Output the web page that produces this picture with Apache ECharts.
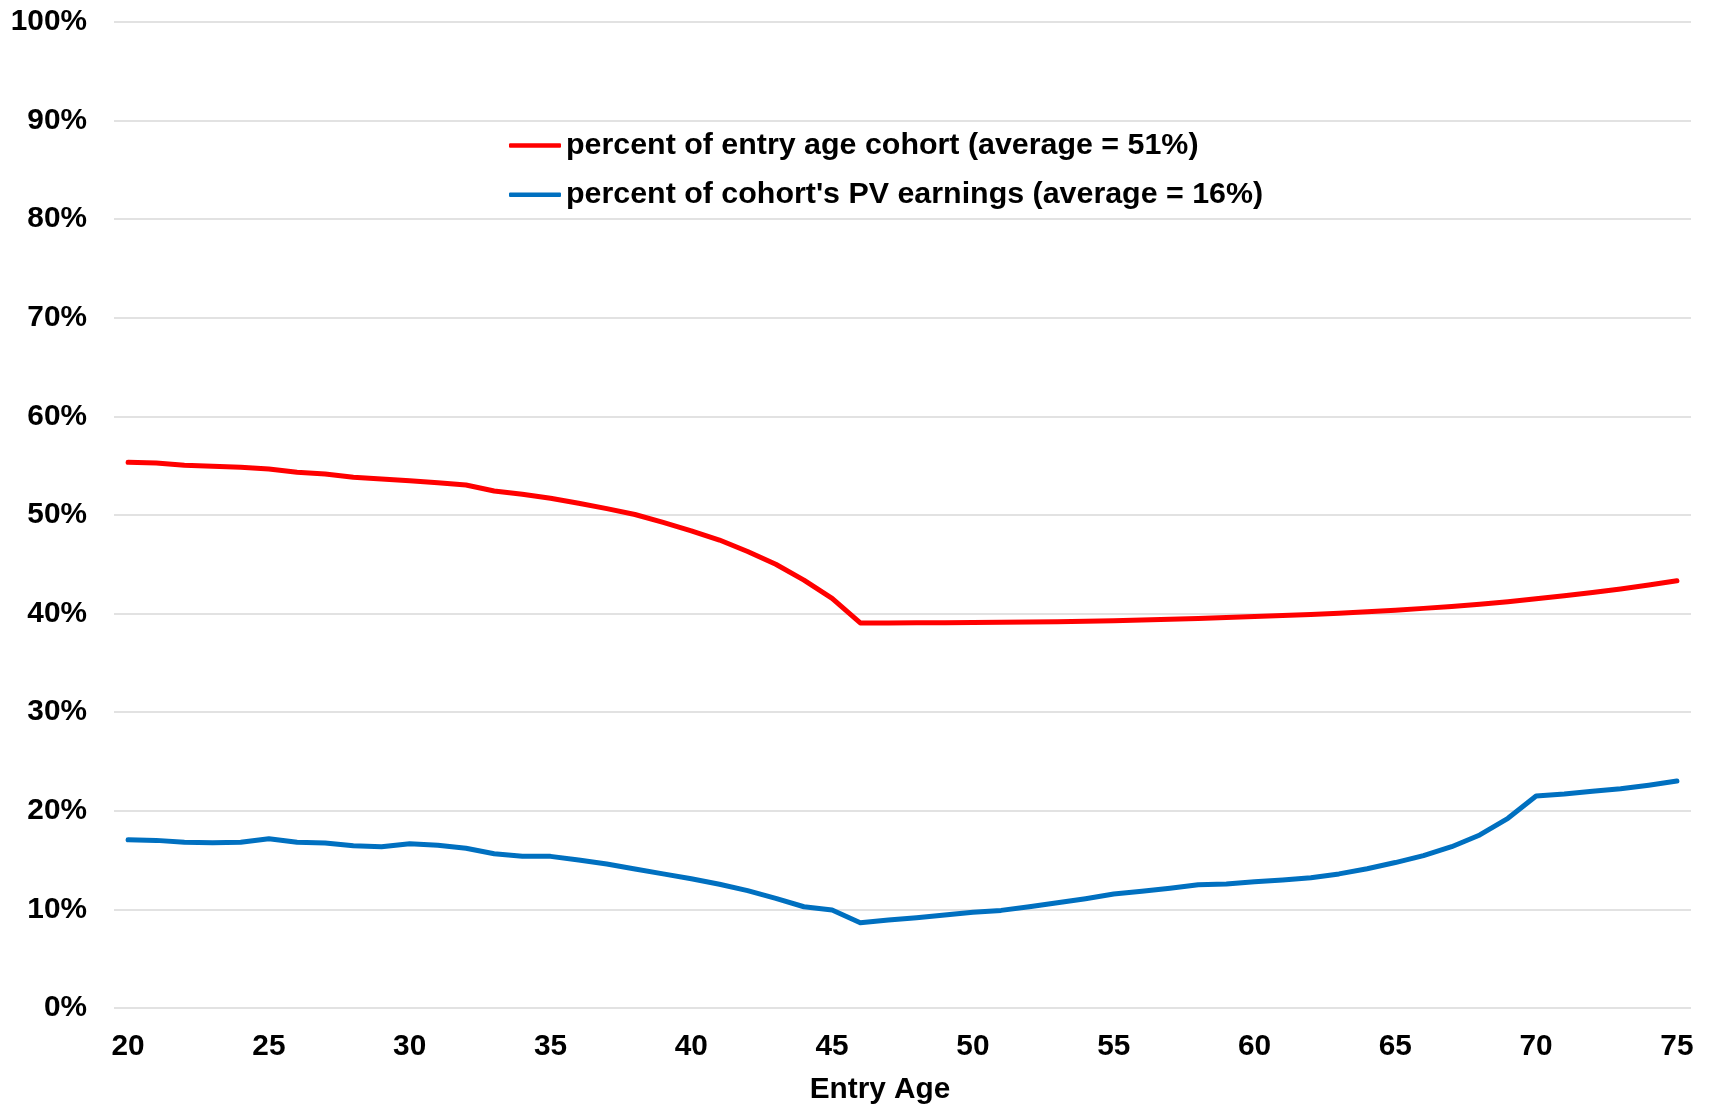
<!DOCTYPE html>
<html>
<head>
<meta charset="utf-8">
<script src="https://cdn.jsdelivr.net/npm/echarts@6/dist/echarts.min.js"></script>
<style>
html,body{margin:0;padding:0;background:#fff;}
#chart{width:1709px;height:1106px;}
</style>
</head>
<body>
<div id="chart"></div>
<script>
const entryAges = [20,21,22,23,24,25,26,27,28,29,30,31,32,33,34,35,36,37,38,39,40,41,42,43,44,45,46,47,48,49,50,51,52,53,54,55,56,57,58,59,60,61,62,63,64,65,66,67,68,69,70,71,72,73,74,75];

const seriesNames = [
  "percent of entry age cohort (average = 51%)",
  "percent of cohort's PV earnings (average = 16%)"
];

const cohortPct = [55.35,55.27,55.04,54.94,54.84,54.67,54.33,54.16,53.82,53.65,53.48,53.28,53.04,52.43,52.1,51.69,51.2,50.65,50.05,49.25,48.4,47.46,46.3,45.0,43.4,41.55,39.05,39.05,39.07,39.08,39.1,39.12,39.15,39.18,39.22,39.27,39.35,39.42,39.5,39.6,39.7,39.8,39.92,40.04,40.18,40.33,40.53,40.73,40.95,41.2,41.5,41.82,42.15,42.5,42.9,43.33];

const pvEarningsPct = [17.07,17.0,16.8,16.77,16.8,17.17,16.8,16.73,16.46,16.36,16.66,16.5,16.2,15.65,15.38,15.38,15.0,14.6,14.1,13.6,13.1,12.55,11.9,11.12,10.27,9.94,8.65,8.92,9.16,9.43,9.7,9.9,10.27,10.68,11.09,11.56,11.83,12.14,12.51,12.58,12.8,12.98,13.22,13.6,14.12,14.75,15.45,16.36,17.55,19.24,21.5,21.7,21.98,22.24,22.6,23.02];

const yTicks = {min: 0, max: 100, interval: 10};

const font = '"Liberation Sans", Arial, sans-serif';
const chart = echarts.init(document.getElementById('chart'), null, {renderer: 'canvas'});
chart.setOption({
  animation: false,
  backgroundColor: '#ffffff',
  grid: {left: 114, right: 18, top: 22, bottom: 98, containLabel: false, outerBoundsMode: 'none'},
  legend: {
    orient: 'vertical',
    left: 509,
    top: 130.5,
    padding: 0,
    itemWidth: 52,
    itemHeight: 4.5,
    itemGap: 19.3,
    icon: 'roundRect',
    textStyle: {fontFamily: font, fontSize: 30.4, fontWeight: 'bold', color: '#000', lineHeight: 30},
    data: seriesNames
  },
  xAxis: {
    type: 'category',
    data: entryAges.map(String),
    boundaryGap: true,
    axisLine: {show: false},
    axisTick: {show: false},
    axisLabel: {interval: 4, margin: 24, fontFamily: font, fontSize: 29.8, fontWeight: 'bold', color: '#000'},
    name: 'Entry Age',
    nameLocation: 'middle',
    nameGap: 67,
    nameTextStyle: {fontFamily: font, fontSize: 29.8, fontWeight: 'bold', color: '#000', padding: [0, 45, 0, 0]}
  },
  yAxis: {
    type: 'value',
    min: yTicks.min,
    max: yTicks.max,
    interval: yTicks.interval,
    axisLine: {show: false},
    axisTick: {show: false},
    axisLabel: {formatter: '{value}%', margin: 27, fontFamily: font, fontSize: 29.8, fontWeight: 'bold', color: '#000'},
    splitLine: {show: true, lineStyle: {color: '#d9d9d9', width: 1.5}}
  },
  series: [
    {
      name: seriesNames[0],
      type: 'line',
      data: cohortPct,
      symbol: 'none',
      color: '#ff0000',
      lineStyle: {width: 5, color: '#ff0000', cap: 'round', join: 'round'}
    },
    {
      name: seriesNames[1],
      type: 'line',
      data: pvEarningsPct,
      symbol: 'none',
      color: '#0070c0',
      lineStyle: {width: 5, color: '#0070c0', cap: 'round', join: 'round'}
    }
  ]
});
</script>
</body>
</html>
